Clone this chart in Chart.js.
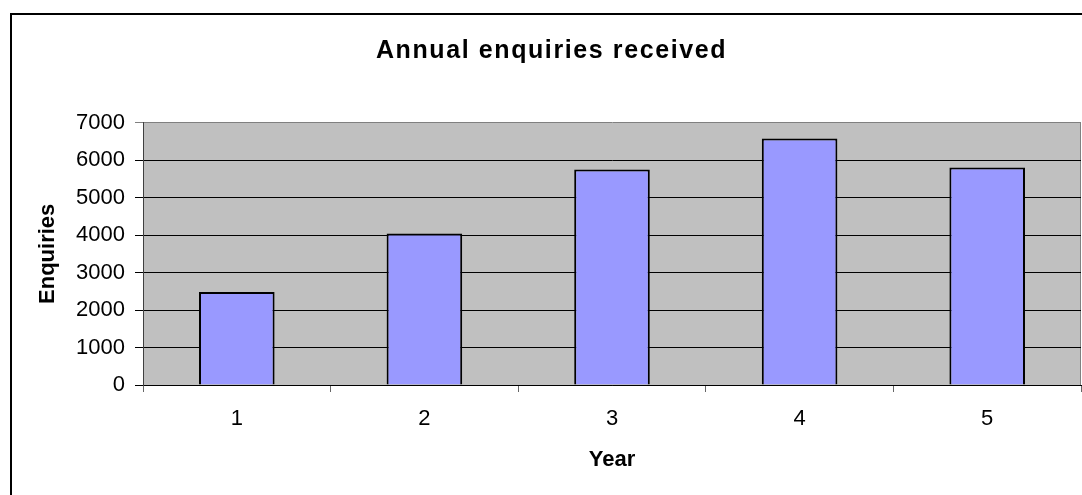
<!DOCTYPE html>
<html>
<head>
<meta charset="utf-8">
<title>Annual enquiries received</title>
<script src="https://cdn.jsdelivr.net/npm/chart.js@4.4.1/dist/chart.umd.min.js"></script>
<style>
  html, body { margin: 0; padding: 0; background: #ffffff; }
  canvas { display: block; }
</style>
</head>
<body>
<canvas id="enquiries-chart" width="1082" height="495"></canvas>
<script>
// Data
const years = ["1", "2", "3", "4", "5"];
const enquiries = [2480, 4045, 5750, 6580, 5805];
const yTicks = [0, 1000, 2000, 3000, 4000, 5000, 6000, 7000];

const chartColors = {
  bar: "#9999ff",
  barBorder: "#000000",
  plotBg: "#c0c0c0",
  plotEdge: "#808080",
  grid: "#000000",
};

const FONT = "'Liberation Sans', Arial, sans-serif";

// Excel-style grey plot area, grey right edge, and the outer chart frame
const excelFrame = {
  id: "excelFrame",
  beforeDraw(chart) {
    const { ctx, chartArea: a } = chart;
    ctx.save();
    ctx.fillStyle = chartColors.plotBg;
    ctx.fillRect(a.left, a.top, a.right - a.left, a.bottom - a.top);
    ctx.strokeStyle = chartColors.plotEdge;
    ctx.lineWidth = 1;
    ctx.beginPath();
    ctx.moveTo(Math.round(a.right) - 0.5, a.top);
    ctx.lineTo(Math.round(a.right) - 0.5, a.bottom);
    ctx.stroke();
    ctx.restore();

    // the title in the reference is drawn wide, so space the letters out a little
    const tb = chart.titleBlock;
    if (tb && !tb._spaced) {
      const orig = tb.draw.bind(tb);
      tb.draw = function (area) {
        chart.ctx.save();
        chart.ctx.letterSpacing = "1.6px";
        orig(area);
        chart.ctx.restore();
      };
      tb._spaced = true;
    }
  },
  afterDraw(chart) {
    const { ctx } = chart;
    ctx.save();
    ctx.strokeStyle = "#000000";
    ctx.lineWidth = 2;
    ctx.strokeRect(11, 14, 1200, 600);
    ctx.restore();
  },
};

new Chart(document.getElementById("enquiries-chart"), {
  type: "bar",
  data: {
    labels: years,
    datasets: [
      {
        label: "Enquiries",
        data: enquiries,
        backgroundColor: chartColors.bar,
        borderColor: chartColors.barBorder,
        borderWidth: 2,
        barPercentage: 0.403,
        categoryPercentage: 1,
      },
    ],
  },
  options: {
    responsive: false,
    animation: false,
    layout: { padding: { left: 22, right: 1, top: 0, bottom: 0 } },
    plugins: {
      legend: { display: false },
      tooltip: { enabled: false },
      title: {
        display: true,
        text: "Annual enquiries received",
        color: "#000000",
        font: { family: FONT, size: 25, weight: "bold" },
        padding: { top: 36, bottom: 56.7 },
      },
    },
    scales: {
      x: {
        offset: true,
        grid: {
          offset: true,
          drawOnChartArea: false,
          tickLength: 7,
          color: "#666666",
        },
        border: { color: "#000000" },
        ticks: {
          color: "#000000",
          padding: 14,
          font: { family: FONT, size: 22 },
        },
        title: {
          display: true,
          text: "Year",
          color: "#000000",
          font: { family: FONT, size: 22, weight: "bold" },
          padding: { top: 0, bottom: 22.3 },
        },
        afterFit: (scale) => {
          scale.height = 110;
        },
      },
      y: {
        min: yTicks[0],
        max: yTicks[yTicks.length - 1],
        afterBuildTicks: (scale) => {
          scale.ticks = yTicks.map((v) => ({ value: v }));
        },
        grid: {
          tickLength: 8,
          color: (c) => (c.tick && c.tick.value === 7000 ? chartColors.plotEdge : chartColors.grid),
        },
        border: { color: "#404040" },
        ticks: {
          color: "#000000",
          padding: 10,
          font: { family: FONT, size: 22 },
          callback: (v) => String(v),
        },
        title: {
          display: true,
          text: "Enquiries",
          color: "#000000",
          font: { family: FONT, size: 22, weight: "bold" },
          padding: { top: 12.8, bottom: 0 },
        },
        afterFit: (scale) => {
          scale.width = 121;
        },
      },
    },
  },
  plugins: [excelFrame],
});
</script>
</body>
</html>
